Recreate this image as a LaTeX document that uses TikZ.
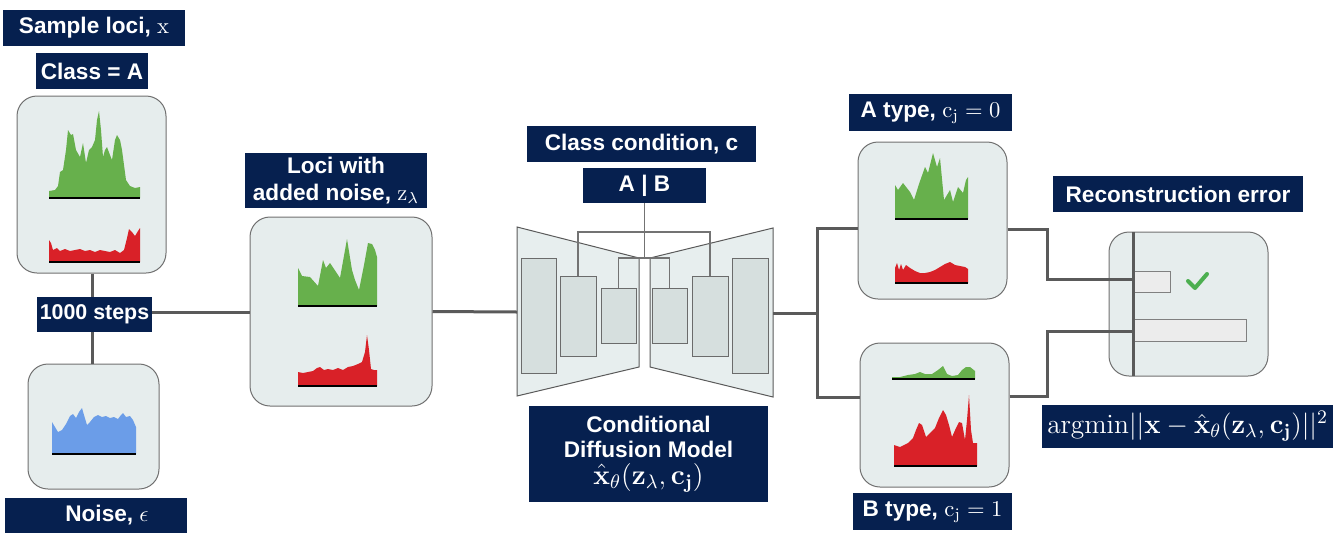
\RequirePackage{fix-cm}
\documentclass[tikz,border=0pt]{standalone}
\usepackage[no-math]{fontspec}
\newfontfamily\lab{Liberation Sans}
\usepackage{amsmath}
\definecolor{navy}{HTML}{06204F}
\definecolor{panelfill}{HTML}{E6EDED}
\definecolor{panelline}{HTML}{707070}
\definecolor{connc}{HTML}{5A5A5A}
\definecolor{unetfill}{HTML}{E7EEEE}
\definecolor{blkfill}{HTML}{D6DFDE}
\definecolor{gfill}{HTML}{67B04C}
\definecolor{rfill}{HTML}{D92128}
\definecolor{bfill}{HTML}{6B9DE8}
\definecolor{barfill}{HTML}{ECECEC}
\definecolor{checkc}{HTML}{4CAF50}
\tikzset{
  lbl/.style={fill=navy, text=white, font={\lab\bfseries\fontsize{11.3}{13.5}\selectfont}, inner sep=0pt, align=center},
  panel/.style={draw=panelline, fill=panelfill, rounded corners=10pt, line width=0.5pt, inner sep=0pt},
  conn/.style={draw=connc, line width=1.5pt},
  thinline/.style={draw=connc!85, line width=0.6pt},
  trap/.style={draw=connc, fill=unetfill, line width=0.5pt},
  blk/.style={draw=connc!90, fill=blkfill, line width=0.5pt, inner sep=0pt},
  baseln/.style={draw=black, line width=1.4pt},
  barbox/.style={draw=gray, fill=barfill, line width=0.5pt}
}
\begin{document}
\begin{tikzpicture}[x=0.5pt, y=-0.5pt]
\useasboundingbox (0,0) rectangle (1338,541);

% ---------- labels ----------
\node[lbl, minimum width=91pt, minimum height=18pt] (samp) at (94,28) {Sample loci, $\mathrm{x}$};
\node[lbl, minimum width=56pt, minimum height=18pt] (classA) at (92,71) {Class = A};
\node[lbl, minimum width=57.5pt, minimum height=17.5pt, font={\lab\bfseries\fontsize{10.7}{13}\selectfont}] (steps) at (94.5,314.5) {1000 steps};
\node[lbl, minimum width=91pt, minimum height=17.5pt] (noiselbl) at (96,515.5) {\hspace*{11pt}Noise, $\epsilon$};
\node[lbl, minimum width=91pt, minimum height=27.5pt, font={\lab\bfseries\fontsize{11.3}{13.5}\selectfont}] (locilbl) at (336,180.5) {Loci with\\added noise, $\mathrm{z}_\lambda$};
\node[lbl, minimum width=114.5pt, minimum height=18pt] (classc) at (641.5,144) {Class condition, c};
\node[lbl, minimum width=61.5pt, minimum height=17.5pt] (AB) at (644.5,185.5) {A | B};
\node[lbl, minimum width=119.5pt, minimum height=48pt, font={\lab\bfseries\fontsize{11.3}{12.5}\selectfont}] (cdm) at (648.5,454) {Conditional\\Diffusion Model\\[1pt]{\fontsize{14}{14}\selectfont$\hat{\mathbf{x}}_\theta(\mathbf{z}_\lambda,\mathbf{c}_\mathbf{j})$}};
\node[lbl, minimum width=81.5pt, minimum height=18.5pt] (Atype) at (930.5,112.5) {A type, $\mathrm{c}_\mathrm{j}=0$};
\node[lbl, minimum width=79.5pt, minimum height=18.5pt] (Btype) at (932.5,511.5) {B type, $\mathrm{c}_\mathrm{j}=1$};
\node[lbl, minimum width=125pt, minimum height=18pt] (recon) at (1178,194) {Reconstruction error};
\node[lbl, minimum width=145.5pt, minimum height=21.5pt, font={\fontsize{13.7}{15}\selectfont}] (argm) at (1187.5,426.5) {$\mathrm{argmin}||\mathbf{x}-\hat{\mathbf{x}}_\theta(\mathbf{z}_\lambda,\mathbf{c}_\mathbf{j})||^2$};

% ---------- panels ----------
\node[panel, minimum width=74.5pt, minimum height=88.5pt] (b1) at (91.5,184.5) {};
\node[panel, minimum width=65.5pt, minimum height=62.5pt] (nb) at (93.5,426.5) {};
\node[panel, minimum width=91pt, minimum height=94.5pt] (b2) at (341,311.5) {};
\node[panel, minimum width=74.5pt, minimum height=78.5pt] (bA) at (932.5,220.5) {};
\node[panel, minimum width=74.5pt, minimum height=72pt] (bB) at (934.5,415) {};
\node[panel, minimum width=79.5pt, minimum height=72pt] (bR) at (1188.5,304) {};

% ---------- charts ----------
% box 1 green
\fill[gfill] plot coordinates {(49,198) (49,191) (55,190) (58,186) (60,172) (63,170) (66,150) (68,130) (71,135) (73,134) (76,150) (80,157) (83,143) (86,163) (89,150) (92,147) (95,140) (97,120) (99,111) (101,130) (103,157) (105,150) (107,147) (110,155) (112,160) (115,140) (117,135) (120,140) (122,150) (126,180) (130,186) (135,188) (140,187) (140,198)} -- cycle;
\draw[baseln] (49,198) -- (140,198);
% box 1 red
\fill[rfill] plot coordinates {(49,262) (49,240) (51,243) (53,250) (57,248) (60,251) (65,249) (70,251) (75,250) (80,249) (85,251) (90,250) (95,252) (100,250) (105,251) (110,252) (115,250) (120,253) (124,250) (127,238) (129,229) (132,232) (135,236) (138,231) (140,228) (140,262)} -- cycle;
\draw[baseln] (49,262) -- (140,262);
% noise blue
\fill[bfill] plot coordinates {(52,454) (52,422) (55,427) (58,432) (62,430) (66,424) (70,416) (73,414) (76,418) (79,412) (82,408) (84,415) (87,425) (90,422) (94,417) (98,415) (102,417) (106,416) (110,418) (114,417) (118,419) (121,415) (123,413) (126,417) (130,416) (133,420) (136,427) (136,454)} -- cycle;
\draw[baseln] (52,454) -- (136,454);
% box 2 green
\fill[gfill] plot coordinates {(298,306) (298,268) (302,276) (310,277) (318,286) (323,260) (326,268) (330,263) (340,278) (347,239) (352,270) (355,280) (359,290) (364,265) (368,243) (372,244) (375,250) (377,257) (377,306)} -- cycle;
\draw[baseln] (298,306) -- (377,306);
% box 2 red
\fill[rfill] plot coordinates {(298,386) (298,372) (303,373) (308,372) (313,371) (317,368) (320,367) (324,370) (328,369) (333,370) (338,368) (343,370) (348,367) (353,366) (358,364) (362,362) (365,352) (367,335) (369,350) (371,369) (374,370) (377,370) (377,386)} -- cycle;
\draw[baseln] (298,386) -- (377,386);
% box A green
\fill[gfill] plot coordinates {(895,219) (895,185) (898,190) (903,183) (910,192) (914,200) (919,184) (925,167) (928,173) (933,153) (937,167) (940,158) (944,200) (950,190) (953,202) (958,187) (963,193) (966,180) (968,177) (968,219)} -- cycle;
\draw[baseln] (895,219) -- (968,219);
% box A red
\fill[rfill] plot coordinates {(895,283) (895,268) (897,263) (899,270) (901,264) (903,270) (906,265) (910,268) (915,271) (920,273) (925,273) (930,272) (935,270) (940,267) (945,264) (950,262) (955,265) (960,266) (965,267) (968,269) (968,283)} -- cycle;
\draw[baseln] (895,283) -- (968,283);
% box B green
\fill[gfill] plot coordinates {(892,379) (892,377) (900,377) (908,375) (915,374) (920,372) (925,374) (932,374) (938,370) (943,366) (947,374) (952,376) (958,375) (962,370) (966,367) (970,367) (975,371) (975,379)} -- cycle;
\draw[baseln] (892,379) -- (975,379);
% box B red
\fill[rfill] plot coordinates {(894,466) (894,445) (900,447) (908,443) (913,438) (916,430) (919,423) (922,425) (926,437) (930,433) (935,428) (939,418) (943,410) (946,415) (949,425) (952,437) (956,428) (959,422) (962,423) (965,440) (967,420) (969,395) (971,430) (973,443) (977,443) (977,466)} -- cycle;
\draw[baseln] (894,466) -- (977,466);

% ---------- U-Net ----------
\draw[trap] (517,227) -- (639,258) -- (639,367) -- (517,396) -- cycle;
\draw[trap] (650,258) -- (773,228) -- (773,397) -- (650,367) -- cycle;
\node[blk, minimum width=17.5pt, minimum height=57.5pt] (r1) at (538.5,315.5) {};
\node[blk, minimum width=18pt, minimum height=40pt] (r2) at (578,316) {};
\node[blk, minimum width=17.5pt, minimum height=27.5pt] (r3) at (618.5,315.5) {};
\node[blk, minimum width=17.5pt, minimum height=27.5pt] (r3p) at (669.5,315.5) {};
\node[blk, minimum width=18pt, minimum height=40pt] (r2p) at (710,316) {};
\node[blk, minimum width=18pt, minimum height=57.5pt] (r1p) at (750,315.5) {};
\coordinate (uL) at (517,312);
\coordinate (uR) at (773,313);
\draw[thinline] (AB.south) -- (AB.south |- 0,258);
\draw[thinline] (r2.north) |- (r2p.north |- 0,232) -- (r2p.north);
\draw[thinline] (r3.north) |- (r3p.north |- 0,258) -- (r3p.north);

% ---------- connectors ----------
\draw[conn] (b1.south -| 92,0) -- (steps.north -| 92,0);
\draw[conn] (steps.south -| 92,0) -- (nb.north -| 92,0);
\draw[conn] (steps.east |- 0,312) -- (b2.west |- 0,312);
\draw[conn] (b2.east) -- (uL);
\coordinate (fork) at (817,313);
\draw[conn] (uR) -- (fork);
\draw[conn] (bA.west |- 0,228) -| (fork) |- (bB.west |- 0,397);
\coordinate (axtop) at (1133,232);
\coordinate (axbot) at (1133,376);
\draw[conn] (bA.east |- 0,229) -- (1047,229) -- (1047,279) -- (axtop |- 0,279);
\draw[conn] (bB.east |- 0,396) -- (1047,396) -- (1047,331) -- (axtop |- 0,331);

% ---------- reconstruction chart ----------
\node[barbox, minimum width=18.5pt, minimum height=10.5pt, inner sep=0pt] (bar1) at (1151.5,281.5) {};
\node[barbox, minimum width=56.5pt, minimum height=11pt, inner sep=0pt] (bar2) at (1189.5,330) {};
\draw[conn] (axtop) -- (axbot);
\draw[checkc, line width=2pt, line cap=round, line join=round] (1188,281) -- (1195,288) -- (1207,274);
\end{tikzpicture}
\end{document}
